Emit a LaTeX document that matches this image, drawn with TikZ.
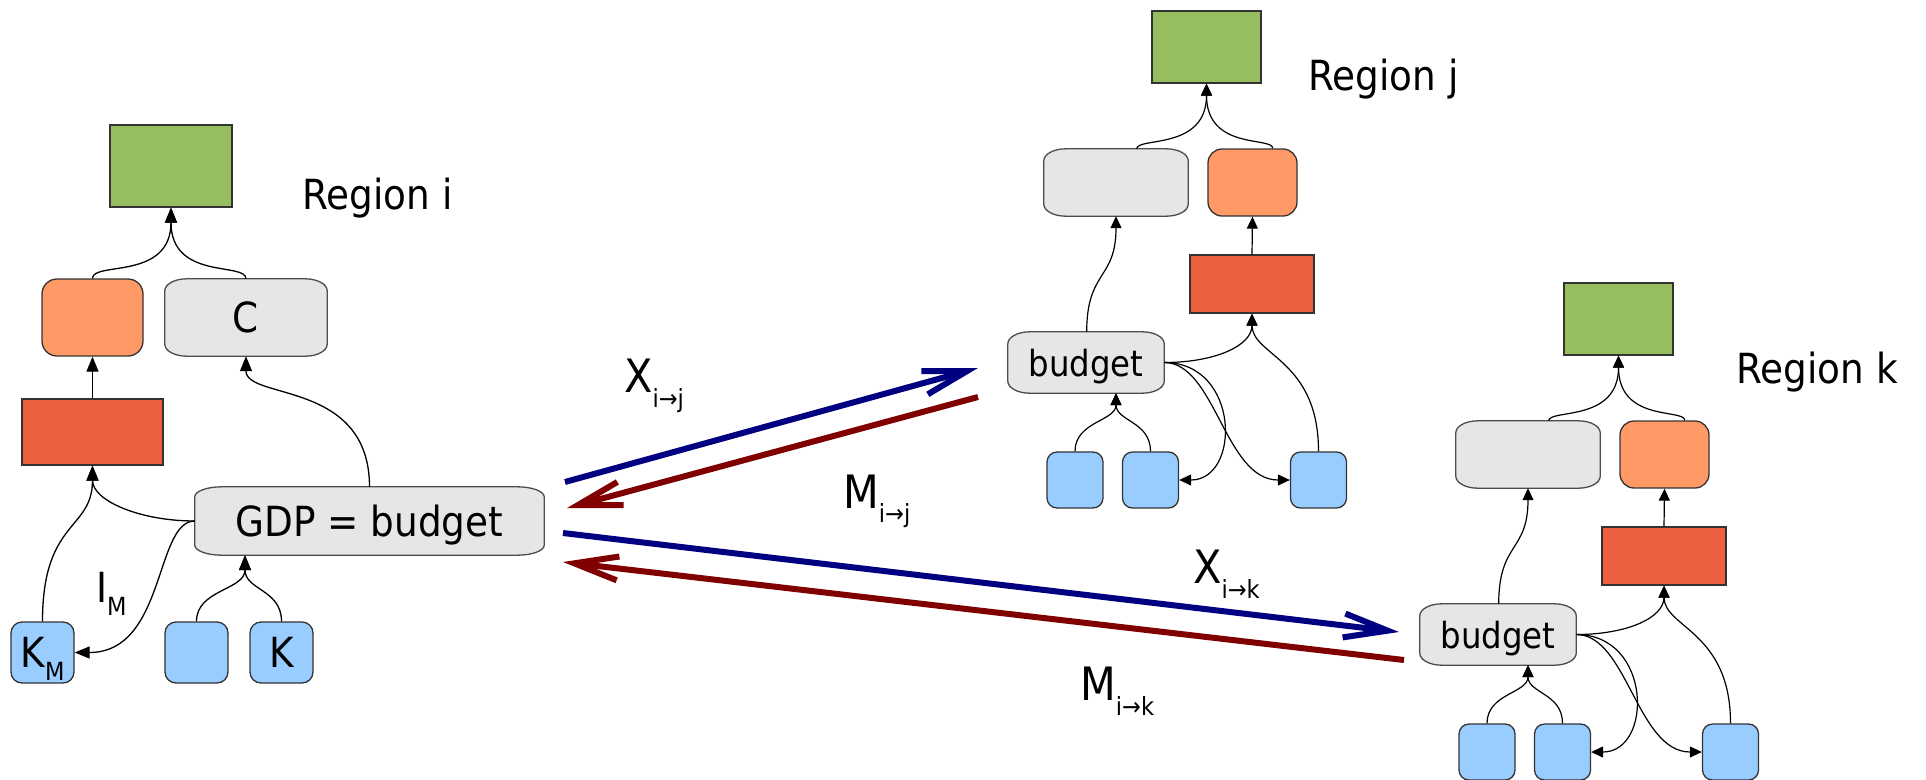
\documentclass[tikz,border=0pt]{standalone}
\usepackage{fontspec}
\setmainfont{DejaVu Sans Condensed}
\usetikzlibrary{arrows.meta,calc,backgrounds}
\definecolor{cgreen}{HTML}{97BE5E}
\definecolor{corange}{HTML}{FF9966}
\definecolor{cred}{HTML}{EB6140}
\definecolor{cgray}{HTML}{E6E6E6}
\definecolor{cblue}{HTML}{99CCFF}
\definecolor{cnavy}{HTML}{000080}
\definecolor{cmaroon}{HTML}{800000}
\definecolor{cedge}{HTML}{333333}
\newcommand\subfont{\fontsize{25}{25}\selectfont}
\tikzset{
  rectbox/.style={draw=cedge, line width=1.3pt, inner sep=0pt},
  greenbox/.style={rectbox, fill=cgreen},
  redbox/.style={rectbox, fill=cred},
  orangebox/.style={rectbox, fill=corange, rounded corners=14pt},
  bluebox/.style={rectbox, fill=cblue, rounded corners=10pt},
  graybox/.style={inner sep=0pt, text depth=0pt},
  ovalstyle/.style={draw=black!70, line width=1.3pt, fill=cgray},
  conn/.style={line width=1.2pt, -{Triangle[length=12pt,width=11pt]}},
  connbig/.style={line width=1.3pt, -{Triangle[length=15pt,width=12pt]}},
  flowX/.style={line width=6pt, draw=cnavy, -{Straight Barb[length=44pt,width=24pt]}},
  flowM/.style={line width=6pt, draw=cmaroon, -{Straight Barb[length=44pt,width=24pt]}},
  bigtext/.style={font=\fontsize{41.5}{48}\selectfont},
  flowtext/.style={font=\fontsize{46}{52}\selectfont, anchor=base west, inner sep=0pt},
  regiontext/.style={font=\fontsize{41.5}{48}\selectfont, anchor=base west, inner sep=0pt},
}
% elliptic-corner box drawn round a node: #1 node, #2 x radius, #3 y radius
\newcommand\ovalshape[3]{%
  \draw[ovalstyle] ($(#1.north west)+(#2pt,0pt)$) -- ($(#1.north east)+(-#2pt,0pt)$)
    arc[start angle=90,end angle=0,x radius=#2pt,y radius=#3pt]
    -- ($(#1.south east)+(0pt,#3pt)$)
    arc[start angle=0,end angle=-90,x radius=#2pt,y radius=#3pt]
    -- ($(#1.south west)+(#2pt,0pt)$)
    arc[start angle=270,end angle=180,x radius=#2pt,y radius=#3pt]
    -- ($(#1.north west)+(0pt,-#3pt)$)
    arc[start angle=180,end angle=90,x radius=#2pt,y radius=#3pt] -- cycle;}
% one of the two small regions, #1 = name prefix
\newcommand\smallregion[1]{%
  \node[greenbox, minimum width=109pt, minimum height=72pt] (#1g) at (1206.5,47) {};
  \node[graybox, minimum width=144pt, minimum height=67pt] (#1y) at (1116,182.5) {};
  \node[orangebox, minimum width=89pt, minimum height=67pt] (#1o) at (1252.5,182.5) {};
  \node[redbox, minimum width=124pt, minimum height=58pt] (#1r) at (1252,284) {};
  \node[graybox, minimum width=156pt, minimum height=61pt, font=\fontsize{36}{40}\selectfont] (#1b) at (1086,362.5) {budget};
  \node[bluebox, minimum width=56pt, minimum height=56pt] (#1k1) at (1075,480) {};
  \node[bluebox, minimum width=56pt, minimum height=56pt] (#1k2) at (1150.5,480) {};
  \node[bluebox, minimum width=56pt, minimum height=56pt] (#1k3) at (1318.5,480) {};
  \begin{pgfonlayer}{background}
    \ovalshape{#1y}{22}{12}
    \ovalshape{#1b}{22}{12}
  \end{pgfonlayer}
  \draw[conn] ([xshift=20.7pt]#1y.north) .. controls +(0,-12) and +(0,67) .. (#1g.south);
  \draw[conn] ([xshift=20.2pt]#1o.north) .. controls +(0,-12) and +(0,67) .. (#1g.south);
  \draw[conn] (#1r.north) -- (#1o.south);
  \draw[conn] ([xshift=0.7pt]#1b.north) .. controls +(0,-62) and +(0,64) .. (#1y.south);
  \draw[conn] (#1b.east) .. controls +(51,0) and +(0,32) .. (#1r.south);
  \draw[conn] (#1k3.north) .. controls +(0,-92) and +(0,42) .. (#1r.south);
  \draw[conn] (#1b.east) .. controls +(76,0) and +(62,0) .. (#1k2.east);
  \draw[conn] (#1b.east) .. controls +(51,0) and +(-65,0) .. (#1k3.west);
  \draw[conn] (#1k1.north) .. controls +(0,-30) and +(0,28) .. ([xshift=30pt]#1b.south);
  \draw[conn] (#1k2.north) .. controls +(0,-30) and +(0,28) .. ([xshift=30pt]#1b.south);
}
\begin{document}
\begin{tikzpicture}[x=1pt,y=-1pt]
\useasboundingbox (0,0) rectangle (1926,779);

% ---------------- Region i ----------------
\node[greenbox, minimum width=122pt, minimum height=82pt] (ig) at (171,166) {};
\node[orangebox, rounded corners=15pt, minimum width=101pt, minimum height=77pt] (io) at (92.5,317.5) {};
\node[graybox, bigtext, minimum width=162pt, minimum height=77pt] (ic) at (246,317.5) {C};
\node[redbox, minimum width=141pt, minimum height=66pt] (ir) at (92.5,432) {};
\node[graybox, bigtext, minimum width=349pt, minimum height=68pt] (igdp) at (369.5,521) {GDP = budget};
\node[bluebox, rounded corners=11pt, bigtext, minimum width=63pt, minimum height=61pt] (ikm) at (42.5,652.5) {K\smash{\raisebox{-13pt}{\subfont M}}};
\node[bluebox, rounded corners=11pt, minimum width=63pt, minimum height=61pt] (ibl) at (196.5,652.5) {};
\node[bluebox, rounded corners=11pt, bigtext, minimum width=63pt, minimum height=61pt] (ik) at (281.5,652.5) {K};
\begin{pgfonlayer}{background}
  \ovalshape{ic}{22}{12}
  \ovalshape{igdp}{27}{10}
\end{pgfonlayer}
\node[regiontext] (lri) at (302.5,209) {Region i};
\node[regiontext] (lim) at (96,602) {I\smash{\raisebox{-13pt}{\subfont M}}};

\draw[connbig] (io.north) .. controls +(0,-17) and +(0,73) .. (ig.south);
\draw[connbig] (ic.north) .. controls +(0,-17) and +(0,73) .. (ig.south);
\draw[connbig] (ir.north) -- (io.south);
\draw[connbig] (igdp.north) .. controls +(0,-107) and +(0,44) .. (ic.south);
\draw[connbig] (ikm.north) .. controls +(0,-102) and +(0,65) .. (ir.south);
\draw[connbig] (igdp.west) .. controls +(-55,0) and +(0,35) .. (ir.south);
\draw[connbig] (igdp.west) .. controls +(-40,0) and +(91,0) .. (ikm.east);
\draw[connbig] (ibl.north) .. controls +(0,-32) and +(0,35) .. ([xshift=-124.5pt]igdp.south);
\draw[connbig] (ik.north) .. controls +(0,-32) and +(0,35) .. ([xshift=-124.5pt]igdp.south);

% ---------------- Region j ----------------
\smallregion{j}
\node[regiontext] (lrj) at (1308.5,90) {Region j};

% ---------------- Region k ----------------
\begin{scope}[shift={(412,272)}]
\smallregion{k}
\end{scope}
\node[regiontext] (lrk) at (1736.5,383) {Region k};

% ---------------- trade flows ----------------
\coordinate (xij0) at (565,482);
\coordinate (xij1) at (978,368);
\coordinate (mij0) at (978,397);
\coordinate (mij1) at (567,508);
\coordinate (xik0) at (563,533);
\coordinate (xik1) at (1399,632);
\coordinate (mik0) at (1404,660);
\coordinate (mik1) at (563,562);
\draw[flowX] (xij0) -- (xij1);
\draw[flowM] (mij0) -- (mij1);
\draw[flowX] (xik0) -- (xik1);
\draw[flowM] (mik0) -- (mik1);

\node[flowtext] (lxij) at (624,392) {X\smash{\raisebox{-15pt}{\subfont i→j}}};
\node[flowtext] (lmij) at (843,508) {M\smash{\raisebox{-14pt}{\subfont i→j}}};
\node[flowtext] (lxik) at (1193,583) {X\smash{\raisebox{-15pt}{\subfont i→k}}};
\node[flowtext] (lmik) at (1080,700) {M\smash{\raisebox{-15pt}{\subfont i→k}}};
\end{tikzpicture}
\end{document}
